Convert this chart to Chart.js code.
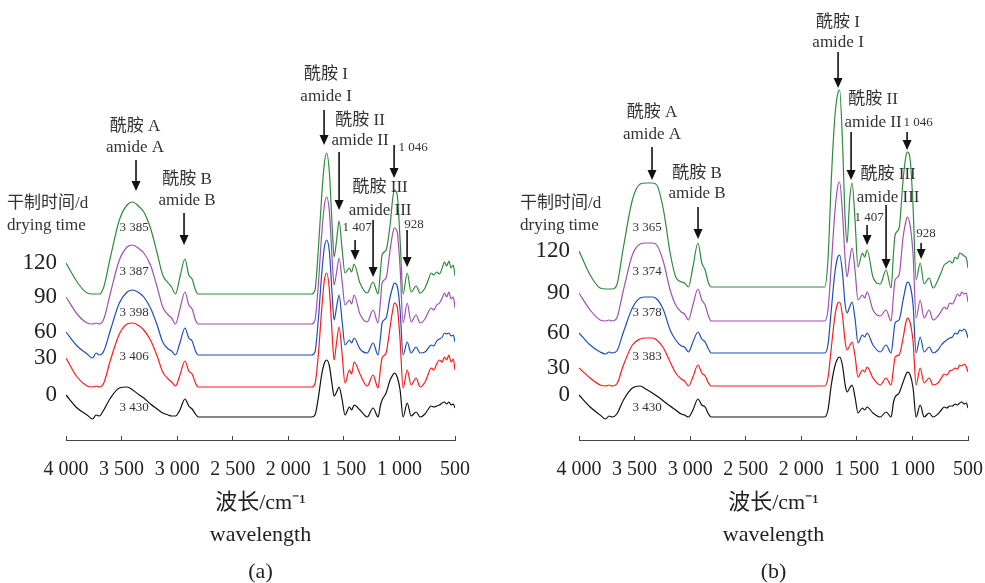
<!DOCTYPE html>
<html>
<head>
<meta charset="utf-8">
<script src="https://cdn.jsdelivr.net/npm/chart.js@4.4.1/dist/chart.umd.min.js"></script>
<style>
body { margin: 0; background: #fff; width: 985px; height: 583px; overflow: hidden; }
#wrap { display: flex; }
canvas { display: block; }
</style>
</head>
<body>
<div id="wrap">
  <canvas id="chartA" width="492" height="583"></canvas>
  <canvas id="chartB" width="493" height="583"></canvas>
</div>
<script>
// wavenumber points (cm-1), shared by every spectrum
var wavenumbers = [4000, 3900, 3810, 3760, 3730, 3700, 3660, 3600, 3520, 3450, 3400, 3340, 3300, 3240, 3180, 3130, 3080, 3050, 3015, 2975, 2930, 2895, 2865, 2835, 2810, 2300, 1790, 1760, 1730, 1700, 1675, 1655, 1630, 1605, 1588, 1565, 1543, 1515, 1490, 1450, 1430, 1408, 1355, 1290, 1237, 1192, 1170, 1156, 1120, 1084, 1060, 1046, 1020, 994, 967, 930, 895, 850, 814, 770, 740, 715, 690, 665, 640, 615, 595, 575, 555, 535, 515, 500];
var dryingDays = ['0', '30', '60', '90', '120'];
var lineColors = ['#111111', '#ff1a1a', '#1f4fb5', '#a050b0', '#2e8b3d'];
var xTicks = [4000, 3500, 3000, 2500, 2000, 1500, 1000, 500];

// panel (a), stacked spectra (offset absorbance), day 0 -> 120
var specA0 = [45,32,25,21,25,24,30,42,52,53,50,45,42,36,31,27,25,24,24,30,41,34,31,26,23,23,23,25,42,65,77,80,74,55,44,48,53,40,25,33,30,35,30,23,32,23,35,40,47,60,65,67,63,50,23,37,24,28,23,26,31,34,33,34,35,37,38,36,38,35,36,32];
var specA30 = [82,63,54,53,54,53,57,80,106,116,117,114,110,100,84,68,61,58,54,65,79,69,66,57,53,53,53,56,85,130,160,167,150,105,80,98,113,85,57,70,66,78,66,54,65,52,72,82,87,113,130,137,133,100,52,70,55,62,53,58,66,72,70,76,80,78,83,80,85,78,81,70];
var specA60 = [108,94,86,82,87,85,89,110,137,148,150,147,143,132,115,98,91,89,85,97,112,102,99,89,85,85,85,88,120,165,193,200,188,145,120,133,145,118,95,100,97,102,91,87,97,85,103,117,122,143,153,157,154,130,85,98,87,93,87,88,92,95,94,99,101,103,107,106,107,104,105,98];
var specA90 = [143,126,117,116,117,116,121,147,180,193,195,191,187,175,153,133,125,122,116,131,148,135,131,120,116,116,116,120,155,205,235,243,228,180,155,168,182,158,135,140,136,145,126,118,130,117,140,157,162,190,207,212,208,172,117,137,118,125,117,121,128,132,130,135,137,142,147,143,148,141,143,132];
var specA120 = [177,158,147,146,146,146,153,183,220,235,238,233,228,212,187,165,157,153,146,163,181,165,161,150,146,146,146,150,190,243,277,287,267,213,183,200,219,190,167,172,168,176,157,147,158,146,170,185,190,215,242,250,245,200,146,167,148,154,147,152,160,167,165,168,166,172,178,174,179,172,175,164];
var peakA = ['3 430', '3 406', '3 398', '3 387', '3 385'];

// panel (b)
var specB0 = [45,33,25,21,24,23,26,40,52,54,51,47,44,39,34,30,26,25,23,30,41,35,33,26,23,23,23,30,55,73,81,83,75,55,48,52,55,42,27,32,30,33,27,23,28,23,38,43,47,58,65,68,65,52,23,35,23,27,23,26,30,33,32,34,34,36,35,37,38,36,37,32];
var specB30 = [72,62,55,54,55,54,56,75,95,101,102,102,100,92,78,67,61,59,54,63,75,67,64,57,54,54,54,62,92,122,136,138,125,98,90,94,98,83,63,70,68,73,62,55,62,55,72,83,85,102,117,122,117,98,55,72,57,62,55,57,62,66,65,69,70,72,71,75,74,76,73,68];
var specB60 = [107,95,88,86,88,87,89,108,132,142,143,143,141,130,110,100,94,93,88,98,108,101,98,91,87,87,87,95,130,165,182,185,168,135,127,133,138,120,97,105,103,107,95,88,95,87,105,117,120,140,153,158,154,135,87,103,88,93,87,90,95,98,100,102,103,107,106,110,109,111,108,102];
var specB90 = [147,130,120,119,120,119,122,150,185,196,197,197,195,178,150,135,128,126,120,135,151,140,135,124,119,119,119,130,175,225,252,258,228,180,163,180,192,168,140,145,142,148,130,124,130,119,145,160,165,203,218,223,214,185,122,140,122,130,120,124,129,133,131,137,136,141,146,144,148,146,147,138];
var specB120 = [189,165,152,151,151,151,155,193,240,256,257,257,255,230,187,163,158,157,153,173,197,177,170,157,153,153,153,180,260,320,345,350,300,220,197,240,257,217,173,187,183,190,163,156,170,152,187,205,212,260,283,288,280,233,160,177,156,162,152,160,168,175,177,179,177,183,181,187,186,184,182,172];
var peakB = ['3 430', '3 383', '3 378', '3 374', '3 365'];

// band labels: text centre (wavenumber / level per line), arrow wavenumber and its top/bottom level
var notesA = [
  { text: ['酰胺 A', 'amide A'], tx: 3379, ty: [313, 292], ax: 3370, a0: 280, a1: 249 },
  { text: ['酰胺 B', 'amide B'], tx: 2911, ty: [260, 239], ax: 2938, a0: 227, a1: 195 },
  { text: ['酰胺 I', 'amide I'], tx: 1660, ty: [365, 343], ax: 1678, a0: 330, a1: 295 },
  { text: ['酰胺 II', 'amide II'], tx: 1354, ty: [319, 299], ax: 1543, a0: 288, a1: 230 },
  { text: ['1 046'], tx: 877, ty: [292], ax: 1048, a0: 295, a1: 262, small: true },
  { text: ['酰胺 III', 'amide III'], tx: 1174, ty: [252, 229], ax: 1237, a0: 220, a1: 163 },
  { text: ['1 407'], tx: 1381, ty: [212], ax: 1399, a0: 200, a1: 180, small: true },
  { text: ['928'], tx: 868, ty: [215], ax: 931, a0: 210, a1: 173, small: true }
];
var notesB = [
  { text: ['酰胺 I', 'amide I'], tx: 1669, ty: [417, 397], ax: 1669, a0: 388, a1: 352 },
  { text: ['酰胺 A', 'amide A'], tx: 3343, ty: [327, 305], ax: 3343, a0: 293, a1: 260 },
  { text: ['酰胺 B', 'amide B'], tx: 2938, ty: [266, 246], ax: 2929, a0: 233, a1: 201 },
  { text: ['酰胺 II', 'amide II'], tx: 1354, ty: [340, 317], ax: 1552, a0: 308, a1: 260 },
  { text: ['1 046'], tx: 949, ty: [317], ax: 1048, a0: 308, a1: 290, small: true },
  { text: ['酰胺 III', 'amide III'], tx: 1219, ty: [265, 242], ax: 1237, a0: 235, a1: 171 },
  { text: ['1 407'], tx: 1390, ty: [222], ax: 1408, a0: 215, a1: 195, small: true },
  { text: ['928'], tx: 877, ty: [206], ax: 922, a0: 197, a1: 181, small: true }
];
var peakLevels = [32, 83, 127, 168, 212];

var serif = "'Liberation Serif', 'Noto Sans CJK SC', serif";

function fmtWn(v) {
  if (v < 1000) return String(v);
  return Math.floor(v / 1000) + ' ' + String(v % 1000).padStart(3, '0');
}

var notePlugin = {
  id: 'notes',
  afterDatasetsDraw: function(chart, args, opts) {
    var ctx = chart.ctx, x = chart.scales.x, y = chart.scales.y;
    ctx.save();
    ctx.textAlign = 'center';
    ctx.textBaseline = 'middle';
    opts.items.forEach(function(n) {
      var px = x.getPixelForValue(n.ax);
      var p0 = y.getPixelForValue(n.a0), p1 = y.getPixelForValue(n.a1);
      ctx.strokeStyle = '#111';
      ctx.lineWidth = 1.6;
      ctx.beginPath();
      ctx.moveTo(px, p0);
      ctx.lineTo(px, p1 - 8);
      ctx.stroke();
      ctx.fillStyle = '#111';
      ctx.beginPath();
      ctx.moveTo(px - 4.5, p1 - 10);
      ctx.lineTo(px + 4.5, p1 - 10);
      ctx.lineTo(px, p1);
      ctx.closePath();
      ctx.fill();
      ctx.fillStyle = '#333';
      ctx.font = (n.small ? '13px ' : '17px ') + serif;
      n.text.forEach(function(t, i) {
        ctx.fillText(t, x.getPixelForValue(n.tx), y.getPixelForValue(n.ty[i]));
      });
    });
    ctx.font = '13px ' + serif;
    opts.peaks.forEach(function(t, i) {
      ctx.fillText(t, x.getPixelForValue(3388), y.getPixelForValue(peakLevels[i]));
    });
    ctx.textAlign = 'left';
    ctx.font = '17px ' + serif;
    ctx.fillText('干制时间/d', chart.chartArea.left - 59, y.getPixelForValue(236));
    ctx.fillText('drying time', chart.chartArea.left - 59, y.getPixelForValue(214));
    ctx.restore();
  }
};

function makeChart(id, series, notes, peaks, tag, padLeft, padRight) {
  var datasets = series.map(function(s, i) {
    return {
      label: dryingDays[i],
      data: wavenumbers.map(function(w, k) { return { x: w, y: s[k] }; }),
      borderColor: lineColors[i],
      borderWidth: 1.2,
      pointRadius: 0,
      fill: false,
      cubicInterpolationMode: 'monotone'
    };
  });
  return new Chart(document.getElementById(id), {
    type: 'line',
    data: { datasets: datasets },
    options: {
      responsive: false,
      animation: false,
      devicePixelRatio: 1,
      layout: { padding: { top: 80, left: padLeft, right: padRight, bottom: 0 } },
      scales: {
        x: {
          type: 'linear',
          reverse: true,
          min: 500,
          max: 4000,
          afterBuildTicks: function(axis) {
            axis.ticks = xTicks.map(function(v) { return { value: v }; });
          },
          afterFit: function(axis) {
            axis.height = 113;
            // side room comes from the layout padding only
            axis.paddingLeft = 0;
            axis.paddingRight = 0;
          },
          ticks: {
            autoSkip: false,
            maxRotation: 0,
            padding: 22,
            color: '#222',
            font: { family: serif, size: 20 },
            callback: function(v) { return fmtWn(v); }
          },
          grid: { drawOnChartArea: false, drawTicks: true, tickLength: -4, color: '#444' },
          border: { display: true, color: '#444', width: 1 },
          title: {
            display: true,
            text: ['波长/cm⁻¹', 'wavelength'],
            color: '#222',
            font: { family: serif, size: 22, lineHeight: 1.45 },
            padding: { top: 0, bottom: 2 }
          }
        },
        y: {
          min: 0,
          max: 360,
          afterBuildTicks: function(axis) {
            axis.ticks = series.map(function(s) { return { value: s[0] }; });
          },
          afterFit: function(axis) { axis.width = 58; },
          ticks: {
            autoSkip: false,
            padding: 9,
            color: '#222',
            font: { family: serif, size: 23 },
            callback: function(v, i) { return dryingDays[i]; }
          },
          grid: { display: false, drawTicks: false },
          border: { display: false }
        }
      },
      plugins: {
        legend: { display: false },
        tooltip: { enabled: false },
        title: {
          display: true,
          text: tag,
          position: 'bottom',
          fullSize: false,
          color: '#222',
          font: { family: serif, size: 22, weight: 'normal', lineHeight: 1.0 },
          padding: { top: 8, bottom: 0 }
        },
        notes: { items: notes, peaks: peaks }
      }
    },
    plugins: [notePlugin]
  });
}

makeChart('chartA', [specA0, specA30, specA60, specA90, specA120], notesA, peakA, '(a)', 8, 37);
makeChart('chartB', [specB0, specB30, specB60, specB90, specB120], notesB, peakB, '(b)', 29, 17);
</script>
</body>
</html>
